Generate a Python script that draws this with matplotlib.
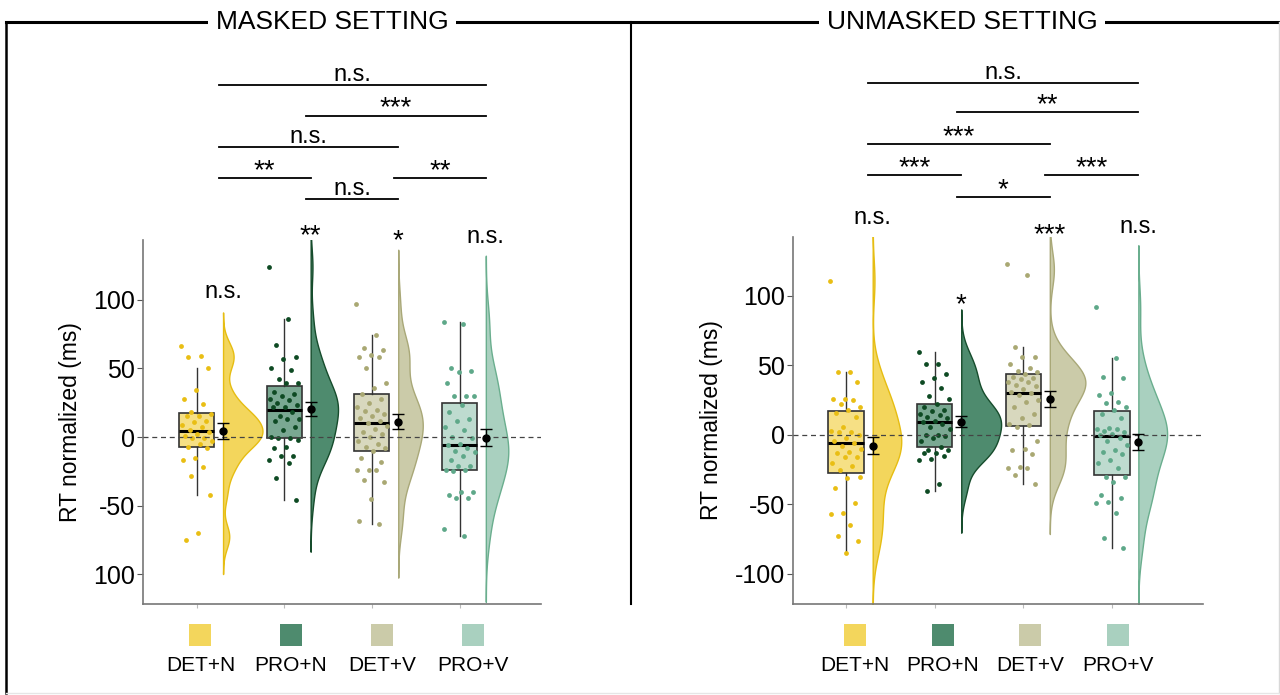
import numpy as np
import matplotlib
matplotlib.use('Agg')
import matplotlib.pyplot as plt
from matplotlib.lines import Line2D
from matplotlib.colors import to_rgba

plt.rcParams['font.family'] = ['Liberation Sans', 'DejaVu Sans']

W, H = 1280, 695

conditions = ['DET+N', 'PRO+N', 'DET+V', 'PRO+V']
fill_colors = ['#F3D65C', '#4E8B6E', '#CBCBA9', '#A9D0BF']
edge_colors = ['#E6BD12', '#164C2C', '#A9A878', '#6AAE8E']
dot_colors = ['#E9BE14', '#0E4A23', '#A9A873', '#5EA889']

# RT normalized (ms)
masked_det_n = [66, 59, 58, 50, 34, 28, 24, 18, 17, 15, 15, 12, 11, 9, 7, 5, 4, 2, 1,
                -1, -1, -3, -5, -7, -8, -15, -17, -22, -28, -42, -70, -75]
masked_pro_n = [124, 86, 67, 58, 57, 50, 49, 42, 39, 39, 33, 31, 30, 28, 27, 25, 23, 22, 22,
                18, 15, 13, 13, 12, 7, 5, 0, -1, -1, -2, -7, -8, -14, -14, -17, -19, -30, -46]
masked_det_v = [97, 74, 65, 63, 60, 58, 58, 50, 39, 36, 31, 28, 25, 22, 20, 19, 17, 15, 14,
                12, 10, 8, 6, 4, 2, 0, -3, -5, -7, -8, -10, -15, -18, -24, -24, -24, -31,
                -33, -45, -61, -63]
masked_pro_v = [84, 82, 50, 48, 47, 39, 30, 30, 30, 23, 18, 13, 12, 7, 5, 0, -1, -5, -6, -8,
                -10, -11, -14, -17, -21, -21, -24, -24, -25, -40, -40, -42, -44, -44, -67, -72]

unmasked_det_n = [111, 45, 45, 38, 26, 26, 25, 22, 20, 18, 16, 13, 6, 3, 2, 2, 0, -2, -4, -6,
                  -8, -10, -12, -13, -16, -16, -20, -22, -25, -30, -31, -38, -49, -56, -57,
                  -65, -73, -76, -85]
unmasked_pro_n = [60, 51, 51, 44, 41, 38, 34, 28, 26, 22, 20, 18, 17, 15, 14, 13, 12, 10, 9, 8,
                  6, 4, 0, 0, -1, -2, -4, -9, -11, -11, -13, -13, -15, -17, -18, -35, -40]
unmasked_det_v = [123, 115, 63, 56, 56, 51, 48, 46, 45, 44, 42, 41, 40, 38, 38, 36, 35, 33, 31,
                  30, 29, 25, 24, 20, 15, 12, 8, 7, 6, -4, -10, -11, -14, -23, -24, -24, -29, -35]
unmasked_pro_v = [92, 55, 42, 41, 30, 29, 24, 23, 20, 18, 15, 12, 5, 4, 4, 3, 2, 1, 0, -2, -4,
                  -7, -11, -12, -14, -18, -20, -24, -30, -30, -34, -43, -45, -48, -49, -56, -74, -81]

# pairwise comparisons (group indices, 1-based) and their labels
pairs = [(1, 4), (2, 4), (1, 3), (1, 2), (3, 4), (2, 3)]
masked_pair_labels = ['n.s.', '***', 'n.s.', '**', '**', 'n.s.']
masked_pair_y = [256, 234, 211, 188.5, 188.5, 173]
unmasked_pair_labels = ['n.s.', '**', '***', '***', '***', '*']
unmasked_pair_y = [253, 232, 209, 187, 187, 171]

# significance vs zero, above each cloud
masked_top_labels = ['n.s.', '**', '*', 'n.s.']
masked_top_y = [98, 141, 137.5, 138]
unmasked_top_labels = ['n.s.', '*', '***', 'n.s.']
unmasked_top_y = [149, 88.5, 139, 142.5]


def nrd0(v):
    sd = np.std(v, ddof=1)
    q75, q25 = np.percentile(v, [75, 25])
    return 0.9 * min(sd, (q75 - q25) / 1.34) * len(v) ** -0.2


def kde(v, bw, grid):
    z = (grid[:, None] - v[None, :]) / bw
    return np.exp(-0.5 * z ** 2).sum(1) / (len(v) * bw * np.sqrt(2 * np.pi))


def sig_text(ax, x, y, txt):
    if txt.startswith('n'):
        off, fs = 3, 17
    else:
        off, fs = 0, 20
    ax.annotate(txt, xy=(x, y), xytext=(0, off), textcoords='offset points',
                ha='center', va='baseline', fontsize=fs, annotation_clip=False)


def draw_panel(ax, groups, pair_labels, pair_y, top_labels, top_y, xlim, ylim, ytl):
    pos = np.arange(1, 5)
    grids, dens = [], []
    for vals in groups:
        v = np.asarray(vals, float)
        bw = nrd0(v)
        g = np.linspace(v.min() - 3 * bw, v.max() + 3 * bw, 512)
        grids.append(g)
        dens.append(kde(v, bw, g))
    peak = max(d.max() for d in dens)

    for i, vals in enumerate(groups):
        v = np.asarray(vals, float)
        base = pos[i] + 0.3
        # half violin
        ax.fill_betweenx(grids[i], base, base + 0.45 * dens[i] / peak,
                         facecolor=fill_colors[i], edgecolor=edge_colors[i], lw=1, zorder=2)
        # box
        ax.boxplot(v, positions=[pos[i]], widths=0.4, patch_artist=True,
                   showfliers=False, showcaps=False, manage_ticks=False,
                   boxprops=dict(facecolor=to_rgba(fill_colors[i], 0.75), edgecolor='#333333', lw=1.2),
                   medianprops=dict(color='black', lw=2.2),
                   whiskerprops=dict(color='#333333', lw=1), zorder=3)
        # jittered points
        jit = ((np.arange(len(v)) * 0.618034) % 1 - 0.5) * 0.36
        ax.scatter(pos[i] + jit, v, s=12, color=dot_colors[i], lw=0, zorder=4)
        # mean and SE
        se = v.std(ddof=1) / np.sqrt(len(v))
        ax.errorbar(base, v.mean(), yerr=se, fmt='o', color='black', ms=5,
                    capsize=4, elinewidth=1, capthick=1, zorder=6)
        sig_text(ax, base, top_y[i], top_labels[i])

    ax.axhline(0, ls=(0, (4, 3)), color='#444444', lw=0.9, zorder=5)

    for (a, b), lab, y in zip(pairs, pair_labels, pair_y):
        x0, x1 = a + 0.25, b + 0.3
        ax.plot([x0, x1], [y, y], color='black', lw=1.3, clip_on=False)
        sig_text(ax, (x0 + x1) / 2, y, lab)

    ax.set_xlim(*xlim)
    ax.set_ylim(*ylim)
    ax.set_yticks([100, 50, 0, -50, -100])
    ax.set_yticklabels(ytl, fontsize=18)
    ax.set_xticks(pos)
    ax.set_xticklabels([])
    ax.tick_params(axis='y', length=4, color='#555555', pad=2)
    ax.tick_params(axis='x', length=3, color='#bbbbbb')
    for s in ['top', 'right']:
        ax.spines[s].set_visible(False)
    for s in ['left', 'bottom']:
        ax.spines[s].set_color('#777777')
        ax.spines[s].set_linewidth(1.2)
    ax.set_ylabel('RT normalized (ms)', fontsize=16.5, labelpad=8)


def draw_legend(fig, rect):
    lax = fig.add_axes(rect)
    lax.set_xlim(-0.5, 3.5)
    lax.set_ylim(-0.833, 2)
    lax.axis('off')
    for i, c in enumerate(conditions):
        lax.scatter(i, 1, marker='s', s=260, color=fill_colors[i], lw=0)
        lax.text(i, 0, c, ha='center', va='center', fontsize=15)


def px(x0, y0, x1, y1):
    return [x0 / W, 1 - y1 / H, (x1 - x0) / W, (y1 - y0) / H]


fig = plt.figure(figsize=(12.8, 6.95), dpi=100)

ax1 = fig.add_axes(px(143, 240, 541, 604))
draw_panel(ax1, [masked_det_n, masked_pro_n, masked_det_v, masked_pro_v],
           masked_pair_labels, masked_pair_y, masked_top_labels, masked_top_y,
           (0.386, 4.93), (-121.5, 143.4), ['100', '50', '0', '-50', '100'])

ax2 = fig.add_axes(px(793, 237, 1203, 604))
draw_panel(ax2, [unmasked_det_n, unmasked_pro_n, unmasked_det_v, unmasked_pro_v],
           unmasked_pair_labels, unmasked_pair_y, unmasked_top_labels, unmasked_top_y,
           (0.40, 5.03), (-121.6, 142.4), ['100', '50', '0', '-50', '-100'])

draw_legend(fig, px(155, 605, 518, 690))
draw_legend(fig, px(811, 605, 1162, 690))

# frame around the two settings
def fline(xs, ys, **kw):
    fig.add_artist(Line2D([x / W for x in xs], [1 - y / H for y in ys],
                          transform=fig.transFigure, **kw))

fline([6, 1280], [22, 22], color='black', lw=2.2)
fline([6, 6], [22, 693], color='black', lw=1.8)
fline([631, 631], [22, 604], color='black', lw=1.5)
fline([1279, 1279], [22, 693], color='#d8d8d8', lw=1)
fline([6, 1280], [693, 693], color='#e6e6e6', lw=1)

box = dict(boxstyle='square,pad=0.3', fc='white', ec='none')
fig.text(332 / W, 1 - 22 / H, 'MASKED SETTING', ha='center', va='center',
         fontsize=19, bbox=box, zorder=5)
fig.text(962 / W, 1 - 22 / H, 'UNMASKED SETTING', ha='center', va='center',
         fontsize=19, bbox=box, zorder=5)

fig.savefig('out.png', dpi=100, facecolor='white')
